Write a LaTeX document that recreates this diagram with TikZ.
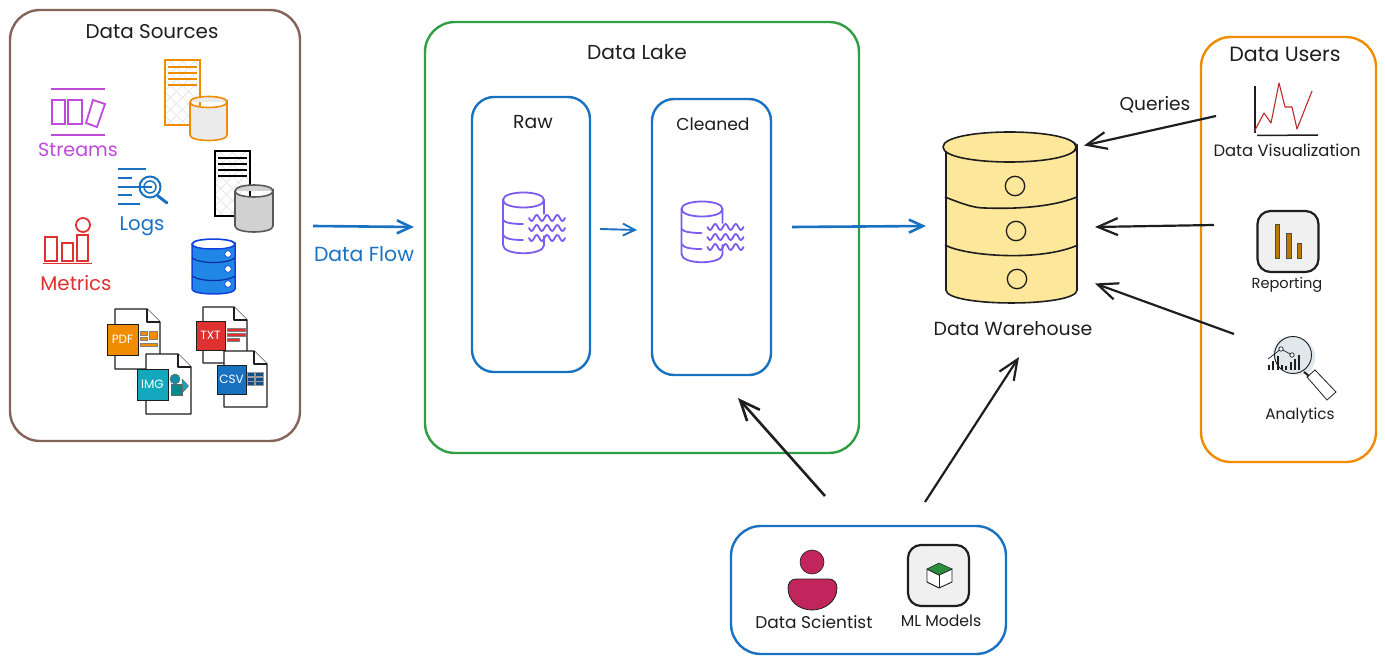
\documentclass[tikz,border=0pt]{standalone}
\usepackage{fontspec}
\setmainfont{Poppins}
\usetikzlibrary{arrows.meta}
\definecolor{cbrown}{HTML}{846358}
\definecolor{cgreen}{HTML}{2F9E44}
\definecolor{cblue}{HTML}{1971C2}
\definecolor{corange}{HTML}{F08C00}
\definecolor{cpurple}{HTML}{BE4BDB}
\definecolor{cviolet}{HTML}{7C5CF0}
\definecolor{cred}{HTML}{E03131}
\definecolor{cink}{HTML}{1E1E1E}
\definecolor{cyellow}{HTML}{FDE79A}
\definecolor{cberry}{HTML}{C2255C}
\definecolor{cteal}{HTML}{13A8BE}
\definecolor{cbright}{HTML}{2087E6}
\definecolor{cdeep}{HTML}{1040E0}
\definecolor{cbar}{HTML}{B97A00}
\newcommand\fsz[1]{\fontsize{#1}{#1}\selectfont}
\tikzset{
  x=1pt,y=-1pt,
  panel/.style={draw,line width=2.4pt,rounded corners=30pt,fill=white,inner sep=0pt},
  lane/.style={draw=cblue,line width=2.4pt,rounded corners=22pt,fill=white,inner sep=0pt},
  iconbox/.style={draw=cink,line width=2.2pt,rounded corners=13pt,fill=black!6,inner sep=0pt},
  label/.style={inner sep=0pt,text=cink},
  filetag/.style={inner sep=0pt,text=white,font=\fsz{12}},
  flow/.style={draw=cblue,line width=2.6pt,-{Straight Barb[length=14pt,width=13pt]}},
  blackflow/.style={draw=cink,line width=2.2pt,-{Straight Barb[length=20pt,width=17pt]}},
  page/.style={draw=cink,line width=1.3pt,fill=white,line join=round},
  lakeline/.style={draw=cviolet,line width=1.8pt,line cap=round},
}
% #1 x1, #2 x2, #3 top centre y, #4 bottom y, #5 ry, #6 options
\newcommand\drumshape[6]{%
  \draw[#6] (#1,#3) -- (#1,#4) .. controls (#1,{#4+1.33*#5}) and (#2,{#4+1.33*#5}) .. (#2,#4) -- (#2,#3)
    .. controls (#2,{#3+1.33*#5}) and (#1,{#3+1.33*#5}) .. (#1,#3)
    .. controls (#1,{#3-1.33*#5}) and (#2,{#3-1.33*#5}) .. (#2,#3);}
% sheet: x1 x2 y1 y2 ink
\newcommand\hatchsheet[5]{%
  \begin{scope}
    \clip (#1,#3) rectangle (#2,#4);
    \foreach \k in {-80,-68,...,80}{
      \draw[black!12,line width=.7pt] ({#1+\k},#3) -- ({#1+\k+70},{#3+70});
      \draw[black!12,line width=.7pt] ({#2-\k},#3) -- ({#2-\k-70},{#3+70});
    }
  \end{scope}
  \draw[#5,line width=2pt] (#1,#3) rectangle (#2,#4);
  \foreach \k in {7,13,19,25}{\draw[#5,line width=1.7pt] ({#1+3},{#3+\k}) -- ({#2-3},{#3+\k});}}
% document page: x1 x2 y1 y2 fold
\newcommand\docpage[5]{%
  \draw[page] (#1,#3) -- ({#2-#5},#3) -- (#2,{#3+#5}) -- (#2,#4) -- (#1,#4) -- cycle;
  \draw[page] ({#2-#5},#3) -- ({#2-#5},{#3+#5}) -- (#2,{#3+#5});}
\tikzset{
  lakedrum/.pic={
    \draw[lakeline] (41,14) -- (41,0) .. controls (41,-10) and (0,-10) .. (0,0) -- (0,45) .. controls (0,56) and (41,56) .. (41,45) -- (41,36);
    \draw[lakeline] (0,0) .. controls (0,10) and (41,10) .. (41,0);
    \draw[lakeline] (0,20) .. controls (2,23) and (10,24) .. (20,24);
    \draw[lakeline] (0,35) .. controls (2,39) and (10,40) .. (20,40);
    \foreach \yy in {18,28,38}{
      \draw[lakeline,shift={(26,\yy)}] plot[domain=0:36,samples=37,smooth] (\x,{3*sin(\x*3.5*10)});
    }
  }
}
\begin{document}
\begin{tikzpicture}
\useasboundingbox (0,0) rectangle (1385,663);
\fill[white] (0,0) rectangle (1385,663);

% containers
\node[panel,draw=cbrown,minimum width=290pt,minimum height=431pt] (sources) at (155,225.5) {};
\node[panel,draw=cgreen,minimum width=434pt,minimum height=431pt] (lake) at (642,237.5) {};
\node[lane,minimum width=118pt,minimum height=275pt] (raw) at (531,234.5) {};
\node[lane,minimum width=119pt,minimum height=276pt] (cleaned) at (711.5,237) {};
\node[panel,draw=corange,minimum width=175pt,minimum height=425pt] (users) at (1288.5,249.5) {};
\node[panel,draw=cblue,minimum width=275pt,minimum height=128pt] (team) at (868.5,590) {};

% titles
\node[label,font=\fsz{19.9}] (tsources) at (152,32) {Data Sources};
\node[label,font=\fsz{20.2}] (tlake) at (637,52.5) {Data Lake};
\node[label,font=\fsz{18.8}] (traw) at (533,122.5) {Raw};
\node[label,font=\fsz{17.2}] (tcleaned) at (713,124.5) {Cleaned};
\node[label,font=\fsz{20.6}] (tusers) at (1285,54.5) {Data Users};
\node[label,font=\fsz{18.9}] (tware) at (1013,328.5) {Data Warehouse};
\node[label,text=cblue,font=\fsz{20.4}] (tflow) at (364,254) {Data Flow};
\node[label,font=\fsz{18.6}] (tqueries) at (1155,105) {Queries};

% streams icon
\draw[cpurple,line width=1.5pt] (51,89) -- (105,89) (51,135) -- (105,135);
\draw[cpurple,line width=1.8pt] (52,100) rectangle (65,124) (68,100) rectangle (82,124);
\draw[cpurple,line width=1.8pt] (93,100) -- (105,104) -- (97,127) -- (86,123) -- cycle;
\node[label,text=cpurple,font=\fsz{19.1}] (tstreams) at (78,150) {Streams};

% logs icon
\draw[cblue,line width=1.5pt] (118,169) -- (146,169) (118,178) -- (132,178) (118,187) -- (152,187) (118,195) -- (132,195) (118,204) -- (140,204);
\draw[cblue,line width=2pt] (150,187) circle[radius=10.5];
\draw[cblue,line width=1.5pt] (150,187) circle[radius=6];
\draw[cblue,line width=3pt,line cap=round] (158,196) -- (167,203);
\node[label,text=cblue,font=\fsz{19.7}] (tlogs) at (142,226) {Logs};

% metrics icon
\draw[cred,line width=1.8pt] (45,237) rectangle (57,261) (62,243) rectangle (73,261) (77,235) rectangle (88,261);
\draw[cred,line width=1.8pt] (83,225) circle[radius=7];
\draw[cred,line width=1.7pt] (43,263.5) -- (92,263.5);
\node[label,text=cred,font=\fsz{19.8}] (tmetrics) at (76,283.5) {Metrics};

% orange sheet and drum
\hatchsheet{165}{200}{60}{125}{corange}
\drumshape{190}{227}{102}{135}{5.5}{draw=corange,line width=1.6pt,fill=black!8}
% black sheet and drum
\hatchsheet{215}{250}{151}{216}{black}
\drumshape{235}{273}{191}{226}{6}{draw=black!65,line width=1.6pt,fill=black!18}

% blue database
\drumshape{192}{235}{244}{289}{5}{draw=cdeep,line width=1.5pt,fill=cbright}
\fill[white] (213.5,244) ellipse[x radius=20,y radius=4];
\draw[cdeep!70!black,line width=1.2pt] (192,258) .. controls (200,264) and (227,264) .. (235,258);
\draw[cdeep!70!black,line width=1.2pt] (192,276) .. controls (200,282) and (227,282) .. (235,276);
\foreach \yy in {254,269,284}{\fill[white,draw=cdeep,line width=.6pt] (228,\yy) circle[radius=3.3];}

% PDF file
\docpage{115}{160}{309}{369}{13}
\node[draw=cink,line width=.8pt,fill=corange,minimum size=31pt,inner sep=0pt,filetag] (tagpdf) at (122.5,339.5) {PDF};
\fill[corange,draw=black!50,line width=.4pt] (140,331) rectangle (147,335) (140,337) rectangle (147,340) (149,331) rectangle (157,339) (140,343) rectangle (157,346);
% TXT file
\docpage{203}{247}{307}{363}{13}
\node[draw=cink,line width=.8pt,fill=cred,minimum size=29pt,inner sep=0pt,filetag] (tagtxt) at (210.5,335.5) {TXT};
\fill[cred,draw=black!50,line width=.4pt] (227,328) rectangle (245,331) (227,333) rectangle (245,336) (227,338) rectangle (239,341);
% IMG file
\docpage{146}{191}{354}{414}{13}
\node[draw=cink,line width=.8pt,fill=cteal,minimum size=31pt,inner sep=0pt,filetag] (tagimg) at (152.5,384.5) {IMG};
\fill[cteal,draw=black!60,line width=.5pt] (182,379) -- (188.5,386) -- (182,393) -- cycle;
\fill[teal!80!cteal,draw=black!60,line width=.5pt] (171,384) rectangle (182,395);
\fill[cteal!85!black,draw=black!60,line width=.5pt] (175,379) circle[radius=5];
% CSV file
\docpage{224}{267}{351}{407}{13}
\node[draw=cink,line width=.8pt,fill=cblue,minimum size=29pt,inner sep=0pt,filetag] (tagcsv) at (231.5,379.5) {CSV};
\foreach \yy in {372,377,381}{
  \fill[cblue!70!black,draw=black!40,line width=.3pt] (247,\yy) rectangle (254,{\yy+4});
  \fill[cblue!70!black,draw=black!40,line width=.3pt] (255.5,\yy) rectangle (263,{\yy+4});
}

% lake icons
\pic (rawdrum) at (503,200) {lakedrum};
\pic (cleandrum) at (681.5,209) {lakedrum};

% warehouse
\drumshape{946}{1077}{147}{290}{13}{draw=cink,line width=1.6pt,fill=cyellow}
\draw[cink,line width=1.6pt,fill=cyellow] (943,147) .. controls (943,127) and (1076,127) .. (1076,147) .. controls (1076,167) and (943,167) .. (943,147);
\draw[cink,line width=1.6pt] (945,197) .. controls (965,205) and (975,208) .. (985,208) .. controls (1010,209) and (1050,208) .. (1077,197);
\draw[cink,line width=1.6pt] (945,245) .. controls (965,256) and (1040,262) .. (1078,245);
\foreach \px/\py in {1015/186,1016/231,1017/279}{\draw[cink,line width=1.3pt] (\px,\py) circle[radius=9.7];}

% users: visualization
\draw[cink,line width=1.5pt] (1255,86) -- (1255,133);
\draw[cink,line width=1.5pt] (1257,135.5) -- (1318,135);
\draw[cred!85!black,line width=1.1pt,line join=round] (1254,132) -- (1264,113) -- (1271,123) -- (1279,83) -- (1285,107) -- (1292,107) -- (1297,129) -- (1312,91);
\node[label,font=\fsz{16.4}] (tviz) at (1287,150.5) {Data Visualization};

% users: reporting
\node[iconbox,minimum size=61pt] (reportbox) at (1288,241.5) {};
\foreach \xa/\xb/\yy in {1275/1279/224,1286/1291/233,1297/1301/243}{
  \fill[cbar,draw=black!70,line width=.6pt] (\xa,\yy) rectangle (\xb,258);
}
\node[label,font=\fsz{14.6}] (treport) at (1287,285) {Reporting};

% users: analytics
\fill[cyan!25!gray!22] (1276,343) .. controls (1282,332) and (1308,335) .. (1314,350) .. controls (1318,365) and (1310,378) .. (1295,374) .. controls (1282,372) and (1266,360) .. (1276,343);
\draw[cink,line width=.9pt] (1293,355) circle[radius=18.5];
\draw[cink,line width=.8pt,fill=white] (1307,377) -- (1315,370) -- (1336,392) -- (1327,400) -- cycle;
\draw[cink,line width=2pt] (1304,372) -- (1309,376);
\draw[cink,line width=.7pt] (1268,359) -- (1281,349) -- (1292,355);
\draw[cink,line width=.7pt,fill=white] (1281,349) circle[radius=2.2] (1292,355) circle[radius=2.2];
\foreach \bx/\bt in {1269/365,1273/361,1278/356,1282/365,1286/366,1291/362,1295/359,1299/355}{
  \draw[cink,line width=1.4pt] (\bx,370) -- (\bx,\bt);
}
\node[label,font=\fsz{15.3}] (tanalytics) at (1300,416) {Analytics};

% team
\draw[cink,line width=.6pt,fill=cberry] (812,562) circle[radius=12];
\draw[cink,line width=.8pt,fill=cberry] (796,579) -- (829,579) .. controls (834,579) and (837,583) .. (837,588) .. controls (837,601) and (825,610) .. (812,610) .. controls (799,610) and (788,601) .. (788,588) .. controls (788,583) and (791,579) .. (796,579) -- cycle;
\node[label,font=\fsz{17}] (tscientist) at (814,622.5) {Data Scientist};
\node[iconbox,minimum size=61pt] (mlbox) at (938.5,575.5) {};
\fill[white,draw=cink,line width=.9pt,line join=round] (927,569) -- (927,582) -- (939,588) -- (952,582) -- (952,569) -- (939,575) -- cycle;
\draw[cink,line width=.9pt] (939,575) -- (939,588);
\fill[cgreen!90!black,draw=cink,line width=.5pt,line join=round] (927,569) -- (939,563) -- (952,569) -- (939,575) -- cycle;
\node[label,font=\fsz{15.7}] (tml) at (941,620.5) {ML Models};

% connector ends
\coordinate (flowa) at (313,226);
\coordinate (flowb) at (414,227);
\coordinate (rawout) at (600,229);
\coordinate (cleanin) at (637,230);
\coordinate (lakeout) at (792,227);
\coordinate (wareinw) at (926,226);
\coordinate (vizout) at (1216,116);
\coordinate (wareintop) at (1084,145.5);
\coordinate (repout) at (1214,225);
\coordinate (wareinmid) at (1095,227);
\coordinate (anaout) at (1234,334);
\coordinate (wareinlow) at (1095,283.5);
\coordinate (teamleft) at (825,496);
\coordinate (cleanbottom) at (738,398);
\coordinate (teamright) at (925,502);
\coordinate (warebottom) at (1019,357);

\draw[flow] (flowa) -- (flowb);
\draw[flow,line width=1.9pt,-{Straight Barb[length=12pt,width=12pt]}] (rawout) -- (cleanin);
\draw[flow] (lakeout) -- (wareinw);
\draw[blackflow] (vizout) -- (wareintop);
\draw[blackflow] (repout) -- (wareinmid);
\draw[blackflow] (anaout) -- (wareinlow);
\draw[blackflow,line width=2.6pt] (teamleft) -- (cleanbottom);
\draw[blackflow] (teamright) -- (warebottom);
\end{tikzpicture}
\end{document}
